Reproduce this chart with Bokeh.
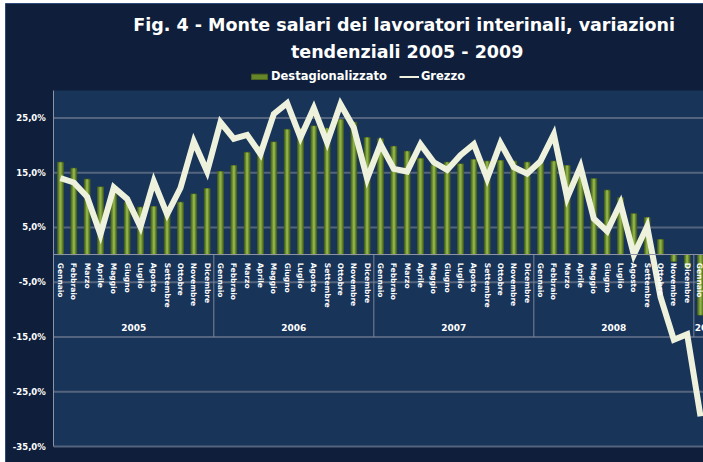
from bokeh.plotting import figure
from bokeh.models import Range1d, FixedTicker, Label, Legend, LegendItem, ColumnDataSource
from bokeh.core.properties import value
from bokeh.embed import file_html
from bokeh.resources import INLINE

nan = float("nan")

# ---------------- data ----------------
years = ["2005", "2006", "2007", "2008", "2009"]
month_names = ["Gennaio", "Febbraio", "Marzo", "Aprile", "Maggio", "Giugno", "Luglio",
               "Agosto", "Settembre", "Ottobre", "Novembre", "Dicembre"]
months_per_year = [12, 12, 12, 12, 2]

destagionalizzato = [
    16.9, 15.8, 13.8, 12.4, 11.3, 9.6, 8.7, 8.8, 7.4, 9.6, 11.1, 12.1,
    15.2, 16.3, 18.7, 19.8, 20.6, 22.9, 23.0, 23.5, 23.1, 24.7, 24.2, 21.4,
    21.2, 19.8, 18.9, 17.6, 16.4, 16.9, 16.6, 17.4, 17.1, 17.2, 17.1, 16.9,
    16.8, 17.1, 16.3, 15.4, 13.9, 11.8, 10.4, 7.5, 6.8, 2.8, -1.2, -2.4,
    -11.0, nan,
]
grezzo = [
    14.0, 13.2, 10.6, 3.7, 12.3, 10.2, 5.1, 13.4, 7.4, 12.2, 20.7, 15.2,
    24.2, 21.2, 21.9, 18.4, 25.7, 27.7, 21.4, 26.8, 20.5, 27.5, 23.2, 13.9,
    20.2, 15.7, 15.2, 20.2, 16.9, 15.5, 18.2, 20.2, 13.9, 20.4, 16.0, 14.8,
    17.1, 22.0, 10.4, 16.1, 6.6, 4.3, 9.4, 0.0, 5.2, -7.7, -15.5, -14.5,
    -29.5, nan,
]
y_ticks = [-35, -25, -15, -5, 5, 15, 25]
y_min, y_max = -35, 30

# ---------------- derived ----------------
labels = []
for n in months_per_year:
    labels += month_names[:n]
xs = list(range(len(labels)))

year_centers, year_bounds = [], []
start = 0
for n in months_per_year:
    year_centers.append(start + (n - 1) / 2)
    year_bounds.append(start + n - 0.5)
    start += n
year_bounds = year_bounds[:-1]

x_first = xs[0] - 0.5
x_last = 48.225   # visible end of the category axis (chart is cut at the right)

src = ColumnDataSource(dict(x=xs, d=destagionalizzato, g=grezzo))

FONT = "DejaVu Sans"
OUTER = "#0f1f3b"
PLOT_BG = "#183459"
GRID = "#55647e"
AXIS = "#8c93a3"
LINE = "#eef2dd"

W, H = 703, 462
FRAME_L, FRAME_T, FRAME_B = 53.3, 90, 446
px_x = (W - FRAME_L) / (x_last - x_first)
px_y = (FRAME_B - FRAME_T) / (y_max - y_min)
xr = Range1d(x_first - FRAME_L / px_x, x_last)
yr = Range1d(y_min - (H - FRAME_B) / px_y, y_max + FRAME_T / px_y)

p = figure(width=W, height=H, output_backend="svg", toolbar_location=None,
           x_range=xr, y_range=yr, min_border=0)
p.background_fill_color = "white"
p.border_fill_color = "white"
p.outline_line_color = None
p.xgrid.visible = False
p.ygrid.visible = False

# chart area (starts a few pixels in from the top-left corner)
p.quad(left=[xr.start + 5 / px_x], right=[xr.end + 2], bottom=[yr.start - 2],
       top=[yr.end - 3 / px_y], fill_color=OUTER, line_color="#2d4a78", line_width=1)
# plot area
p.quad(left=[x_first], right=[x_last], bottom=[y_min], top=[y_max],
       fill_color=PLOT_BG, line_color=None)
# horizontal grid lines
p.segment(x0=[x_first] * len(y_ticks), x1=[x_last] * len(y_ticks), y0=y_ticks, y1=y_ticks,
          line_color=GRID, line_width=2)

# y axis
ya = p.yaxis[0]
ya.ticker = FixedTicker(ticks=y_ticks)
ya.major_label_overrides = {t: f"{t},0%" for t in y_ticks}
ya.fixed_location = x_first
ya.bounds = (y_min, y_max)
ya.major_tick_line_color = None
ya.major_tick_out = 0
ya.minor_tick_line_color = None
ya.axis_line_color = AXIS
ya.major_label_standoff = 8
ya.major_label_text_font = FONT
ya.major_label_text_font_style = "bold"
ya.major_label_text_font_size = "8.5px"
ya.major_label_text_color = "white"

# month axis at zero
mx = p.xaxis[0]
mx.ticker = FixedTicker(ticks=xs)
mx.major_label_overrides = {i: lab for i, lab in zip(xs, labels)}
mx.fixed_location = 0
mx.bounds = (x_first, x_last)
mx.major_label_orientation = "vertical"
mx.major_tick_line_color = None
mx.major_tick_out = 0
mx.minor_tick_line_color = None
mx.axis_line_color = AXIS
mx.major_label_standoff = 8
mx.major_label_text_font = FONT
mx.major_label_text_font_style = "bold"
mx.major_label_text_font_size = "7.5px"
mx.major_label_text_color = "white"

# year separators and labels
p.segment(x0=year_bounds, y0=[0] * len(year_bounds), x1=year_bounds,
          y1=[-15] * len(year_bounds), line_color="#7d8597", line_width=1)
p.text(x=year_centers, y=[-13.3] * len(years), text=years, text_align="center",
       text_baseline="middle", text_font=value(FONT), text_font_style="bold",
       text_font_size="9px", text_color="white")

# bars
bars = p.vbar(x="x", top="d", bottom=0, width=0.42, source=src,
              fill_color="#66862a", line_color="#4b631b", line_width=1)
p.vbar(x="x", top="d", bottom=0, width=0.16, source=src,
       fill_color="#8fb14b", line_color=None)

# line
p.line(x="x", y="g", source=src, line_color=LINE, line_width=6, line_join="miter")
legend_line = p.line(x=[x_first], y=[nan], line_color=LINE, line_width=2)

# title
TITLE_X = 26
p.add_layout(Label(x=TITLE_X, y=42.0, text="Fig. 4  - Monte salari dei lavoratori interinali, variazioni",
                   text_align="center", text_baseline="middle", text_font=FONT,
                   text_font_style="bold", text_font_size="17.5px", text_color="white"))
p.add_layout(Label(x=TITLE_X, y=37.1, text="tendenziali 2005 - 2009",
                   text_align="center", text_baseline="middle", text_font=FONT,
                   text_font_style="bold", text_font_size="17.5px", text_color="white"))

legend = Legend(items=[LegendItem(label="Destagionalizzato", renderers=[bars]),
                       LegendItem(label="Grezzo", renderers=[legend_line])],
                orientation="horizontal", location=(249, 379),
                background_fill_alpha=0, border_line_alpha=0, padding=0, margin=0,
                spacing=12, glyph_width=20, glyph_height=7, label_standoff=2,
                label_height=10, label_text_font=FONT, label_text_font_style="bold",
                label_text_font_size="11.5px", label_text_color="white")
p.add_layout(legend)

open("out.html", "w").write(file_html(p, INLINE))
